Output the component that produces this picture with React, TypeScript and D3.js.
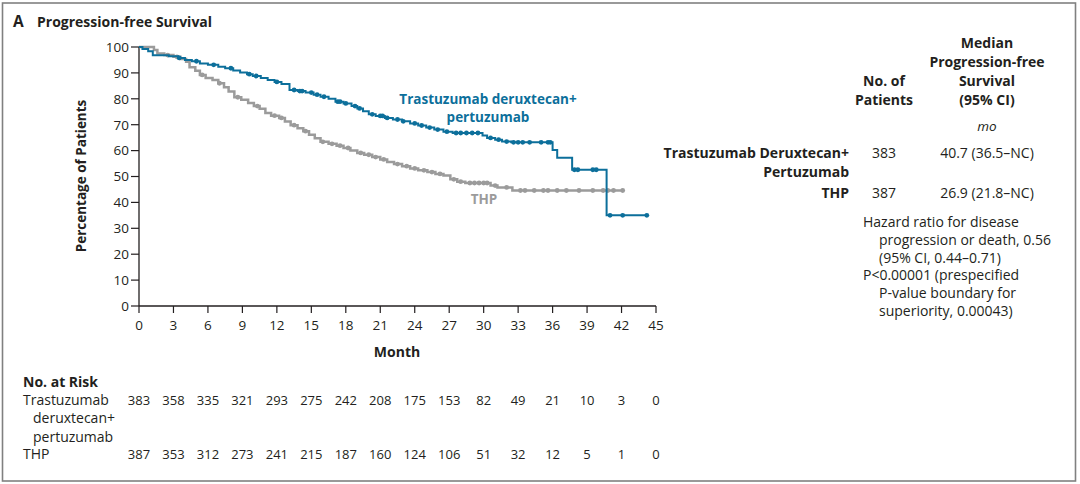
import React from "react";
import * as d3 from "d3";

const monthTicks = [0, 3, 6, 9, 12, 15, 18, 21, 24, 27, 30, 33, 36, 39, 42, 45];
const pctTicks = [0, 10, 20, 30, 40, 50, 60, 70, 80, 90, 100];

// Trastuzumab deruxtecan + pertuzumab: [month, % event-free after step]
const tdxdSteps: [number, number][] = [
  [0, 100], [0.3, 99.2], [0.8, 98.4], [1.2, 96.8], [2.6, 96.4], [3.4, 95.8], [4.0, 95.0],
  [4.6, 94.5], [5.3, 93.6], [6.0, 93.1], [6.9, 92.4], [7.5, 91.8], [8.2, 90.9], [8.8, 90.2],
  [9.4, 89.5], [9.9, 88.8], [10.6, 88.0], [11.2, 87.3], [11.8, 86.5], [12.4, 85.7],
  [13.1, 83.4], [13.8, 83.0], [14.5, 82.4], [15.2, 81.6], [15.8, 80.8], [16.5, 80.0],
  [17.1, 78.9], [17.8, 78.2], [18.5, 77.2], [19.0, 76.3], [19.5, 75.2], [20.0, 74.0],
  [20.6, 73.4], [21.4, 72.6], [22.1, 72.0], [22.9, 71.3], [23.6, 70.5], [24.3, 69.7],
  [25.0, 68.9], [25.7, 68.1], [26.5, 67.3], [27.3, 66.8], [29.9, 65.8], [30.3, 64.9],
  [31.0, 64.2], [31.6, 63.5], [32.4, 63.2], [36.0, 60.2], [36.4, 57.2], [37.7, 52.6],
  [40.7, 35.0],
];
const tdxdEnd = 44.2;
const tdxdCensor = [
  3.5, 5.0, 6.5, 8.0, 9.6, 10.2, 12.0, 13.5, 14.0, 14.2, 15.0, 15.5, 16.1, 17.3, 17.5,
  18.0, 18.8, 19.2, 20.3, 21.0, 21.2, 21.6, 22.5, 23.0, 24.0, 24.6, 25.3, 26.0, 26.8,
  27.6, 28.0, 28.5, 29.0, 29.5, 30.6, 31.3, 32.0, 32.6, 33.0, 33.4, 34.0, 35.0, 35.6,
  35.8, 37.9, 38.2, 39.5, 39.8, 41.0, 42.1, 44.2,
];

// THP
const thpSteps: [number, number][] = [
  [0, 100], [1.3, 98.8], [1.6, 97.5], [2.2, 96.9], [3.0, 96.2], [3.6, 95.4], [4.1, 94.3],
  [4.4, 92.2], [4.9, 90.8], [5.3, 89.2], [5.8, 88.0], [6.4, 87.3], [6.9, 86.0], [7.4, 84.5],
  [7.8, 82.8], [8.3, 80.6], [8.9, 79.6], [9.5, 78.4], [10.0, 77.2], [10.5, 76.2],
  [11.0, 74.5], [11.5, 73.5], [12.2, 72.6], [12.7, 71.2], [13.2, 69.8], [13.8, 68.6],
  [14.3, 67.5], [14.8, 66.1], [15.3, 64.8], [15.8, 63.4], [16.5, 62.6], [17.2, 61.9],
  [17.8, 61.0], [18.4, 60.0], [19.0, 59.1], [19.6, 58.4], [20.3, 57.5], [21.0, 56.6],
  [21.6, 55.6], [22.2, 54.8], [22.9, 54.0], [23.6, 53.1], [24.3, 52.4], [25.1, 51.7],
  [25.8, 51.0], [26.5, 50.4], [27.1, 48.9], [27.7, 48.0], [28.4, 47.5], [30.6, 46.5],
  [31.2, 45.8], [32.5, 44.6],
];
const thpEnd = 42.1;
const thpCensor = [
  2.5, 3.3, 5.5, 7.0, 8.6, 10.3, 11.8, 12.4, 13.5, 14.5, 16.0, 16.8, 17.5, 18.2, 19.3,
  20.0, 20.6, 21.3, 22.5, 23.3, 24.0, 24.8, 25.5, 26.2, 27.4, 28.0, 28.8, 29.2, 29.6,
  30.0, 30.3, 31.0, 32.0, 33.2, 33.6, 34.4, 35.2, 35.6, 36.4, 37.2, 38.3, 39.5, 40.4,
  40.8, 41.3, 42.1,
];

const atRiskTdxd = [383, 358, 335, 321, 293, 275, 242, 208, 175, 153, 82, 49, 21, 10, 3, 0];
const atRiskThp = [387, 353, 312, 273, 241, 215, 187, 160, 124, 106, 51, 32, 12, 5, 1, 0];

const BLUE = "#0c6f9b";
const GREY = "#9b9b9b";
const INK = "#231f20";
const FONT = "'Open Sans', 'Noto Sans', sans-serif";

const x = d3.scaleLinear().domain([0, 45]).range([139, 656]);
const y = d3.scaleLinear().domain([0, 100]).range([306, 47]);

const stepLine = d3
  .line<[number, number]>()
  .x((d) => x(d[0]))
  .y((d) => y(d[1]))
  .curve(d3.curveStepAfter);

function valueAt(steps: [number, number][], t: number) {
  const i = d3.bisector((d: [number, number]) => d[0]).right(steps, t) - 1;
  return steps[Math.max(0, i)][1];
}

function Curve({ steps, end, censor, color, width }: any) {
  const pts: [number, number][] = [...steps, [end, steps[steps.length - 1][1]]];
  return (
    <g>
      <path d={stepLine(pts) || ""} fill="none" stroke={color} strokeWidth={width} />
      {censor.map((t: number, i: number) => (
        <circle key={i} cx={x(t)} cy={y(valueAt(steps, t))} r={2.4} fill={color} />
      ))}
    </g>
  );
}

export default function App() {
  const hazard = [
    { t: "Hazard ratio for disease", dx: 863 },
    { t: "progression or death, 0.56", dx: 879 },
    { t: "(95% CI, 0.44–0.71)", dx: 879 },
    { t: "P<0.00001 (prespecified", dx: 863 },
    { t: "P-value boundary for", dx: 879 },
    { t: "superiority, 0.00043)", dx: 879 },
  ];
  return (
    <div style={{ position: "fixed", left: 0, top: 0 }}>
      <svg width={1080} height={484} style={{ display: "block", background: "#fff" }} fontFamily={FONT}>
        <rect x={2.5} y={3} width={1073} height={478} fill="none" stroke="#808080" strokeWidth={1.6} />

        <text x={13} y={27} fontSize={15.5} fontWeight={700} fill={INK}>A</text>
        <text x={37} y={27} fontSize={14} fontWeight={700} fill={INK}>Progression-free Survival</text>

        {/* y axis */}
        <line x1={139} x2={139} y1={y(100)} y2={y(0)} stroke={INK} strokeWidth={1.3} />
        {pctTicks.map((v) => (
          <g key={v}>
            <line x1={131} x2={139} y1={y(v)} y2={y(v)} stroke={INK} strokeWidth={1.2} />
            <text x={129} y={y(v) + 4.8} fontSize={13.5} textAnchor="end" fill={INK}>{v}</text>
          </g>
        ))}
        <text
          transform={`translate(86,176) rotate(-90)`}
          fontSize={13.5}
          fontWeight={700}
          textAnchor="middle"
          fill={INK}
        >
          Percentage of Patients
        </text>

        {/* x axis */}
        <line x1={x(0)} x2={x(45)} y1={306} y2={306} stroke={INK} strokeWidth={1.3} />
        {monthTicks.map((m) => (
          <g key={m}>
            <line x1={x(m)} x2={x(m)} y1={306} y2={313} stroke={INK} strokeWidth={1.2} />
            <text x={x(m)} y={330} fontSize={13.5} textAnchor="middle" fill={INK}>{m}</text>
          </g>
        ))}
        <text x={397} y={357} fontSize={14} fontWeight={700} textAnchor="middle" fill={INK}>Month</text>

        <Curve steps={thpSteps} end={thpEnd} censor={thpCensor} color={GREY} width={2.5} />
        <Curve steps={tdxdSteps} end={tdxdEnd} censor={tdxdCensor} color={BLUE} width={2} />

        <g fontSize={13.5} fontWeight={700} textAnchor="middle">
          <text x={488} y={104} fill={BLUE}>Trastuzumab deruxtecan+</text>
          <text x={488} y={122} fill={BLUE}>pertuzumab</text>
          <text x={484} y={204} fill={GREY}>THP</text>
        </g>

        {/* right panel */}
        <g fontSize={14} fontWeight={700} fill={INK} textAnchor="middle">
          <text x={987} y={48}>Median</text>
          <text x={987} y={67}>Progression-free</text>
          <text x={987} y={86}>Survival</text>
          <text x={987} y={105}>(95% CI)</text>
          <text x={884} y={86}>No. of</text>
          <text x={884} y={105}>Patients</text>
        </g>
        <text x={987} y={131} fontSize={13.5} fontStyle="italic" textAnchor="middle" fill={INK}>mo</text>
        <g fontSize={14} fontWeight={700} fill={INK} textAnchor="end">
          <text x={849} y={158}>Trastuzumab Deruxtecan+</text>
          <text x={849} y={177}>Pertuzumab</text>
          <text x={849} y={198}>THP</text>
        </g>
        <g fontSize={14} fill={INK} textAnchor="middle">
          <text x={884} y={158}>383</text>
          <text x={987} y={158}>40.7 (36.5–NC)</text>
          <text x={884} y={198}>387</text>
          <text x={987} y={198}>26.9 (21.8–NC)</text>
        </g>
        <g fontSize={14} fill={INK}>
          {hazard.map((h, i) => (
            <text key={i} x={h.dx} y={227 + i * 17.8}>{h.t}</text>
          ))}
        </g>

        {/* at-risk table */}
        <text x={23} y={387} fontSize={14} fontWeight={700} fill={INK}>No. at Risk</text>
        <g fontSize={14} fill={INK}>
          <text x={23} y={405}>Trastuzumab</text>
          <text x={33} y={423}>deruxtecan+</text>
          <text x={33} y={442}>pertuzumab</text>
          <text x={23} y={459}>THP</text>
        </g>
        <g fontSize={13} fill={INK} textAnchor="middle">
          {atRiskTdxd.map((n, i) => (
            <text key={"a" + i} x={x(monthTicks[i])} y={405}>{n}</text>
          ))}
          {atRiskThp.map((n, i) => (
            <text key={"b" + i} x={x(monthTicks[i])} y={459}>{n}</text>
          ))}
        </g>
      </svg>
    </div>
  );
}
